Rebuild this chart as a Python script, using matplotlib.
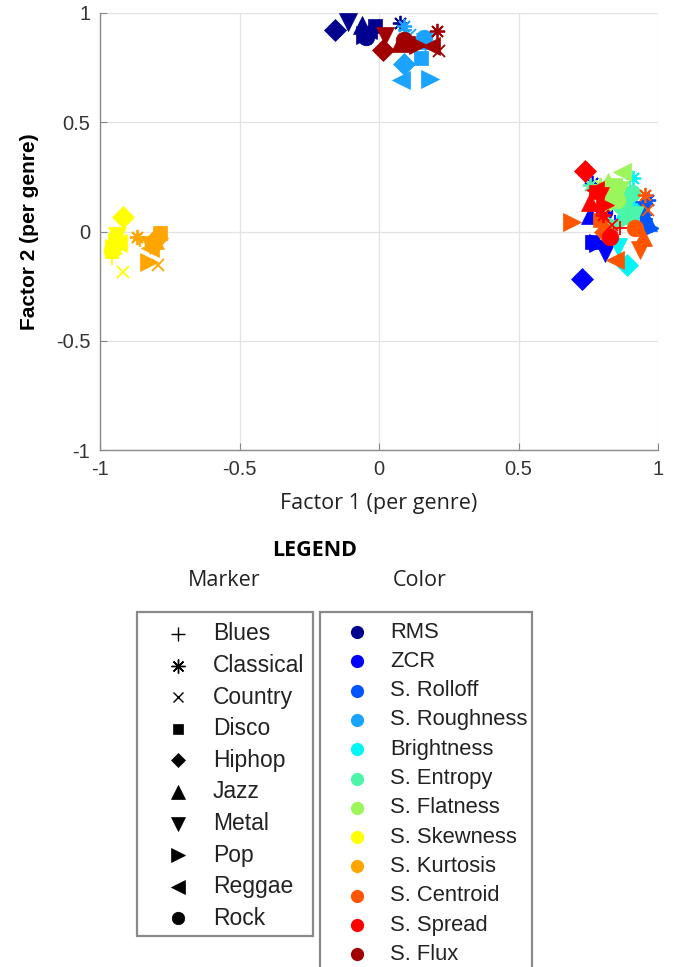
import matplotlib
matplotlib.use("Agg")
import matplotlib.pyplot as plt
from matplotlib.patches import Rectangle

# ---------------- data ----------------
genres = ["Blues", "Classical", "Country", "Disco", "Hiphop", "Jazz", "Metal", "Pop", "Reggae", "Rock"]
features = ["RMS", "ZCR", "S. Rolloff", "S. Roughness", "Brightness", "S. Entropy", "S. Flatness",
            "S. Skewness", "S. Kurtosis", "S. Centroid", "S. Spread", "S. Flux"]
feature_colors = ["#00008f", "#0000ff", "#0055ff", "#1aa3ff", "#00f5f5", "#4cf5a8", "#9cf55a",
                  "#ffff00", "#ffa500", "#ff5500", "#ff0000", "#a00000"]
genre_markers = ["+", (8, 2, 0), "x", "s", "D", "^", "v", ">", "<", "o"]

# factor loadings per genre (x = factor 1, y = factor 2), order follows `genres`
rms_x = [-0.032, 0.075, -0.050, -0.014, -0.158, -0.061, -0.111, -0.050, -0.039, -0.047]
rms_y = [0.922, 0.954, 0.913, 0.941, 0.922, 0.945, 0.959, 0.899, 0.922, 0.890]
zcr_x = [0.846, 0.763, 0.792, 0.763, 0.728, 0.756, 0.810, 0.785, 0.792, 0.806]
zcr_y = [0.043, 0.222, 0.076, -0.048, -0.217, 0.076, -0.098, -0.053, 0.062, 0.089]
rolloff_x = [0.953, 0.964, 0.935, 0.953, 0.935, 0.964, 0.946, 0.971, 0.935, 0.943]
rolloff_y = [0.076, 0.144, 0.121, 0.030, 0.062, 0.043, 0.098, 0.016, 0.089, 0.030]
rough_x = [0.093, 0.090, 0.111, 0.151, 0.090, 0.147, 0.165, 0.183, 0.079, 0.161]
rough_y = [0.922, 0.941, 0.899, 0.794, 0.767, 0.876, 0.867, 0.698, 0.693, 0.886]
bright_x = [0.882, 0.910, 0.900, 0.892, 0.889, 0.871, 0.857, 0.900, 0.892, 0.892]
bright_y = [0.076, 0.245, 0.167, 0.098, -0.153, 0.076, -0.071, 0.121, 0.089, 0.108]
entropy_x = [0.900, 0.756, 0.846, 0.882, 0.864, 0.882, 0.918, 0.846, 0.900, 0.907]
entropy_y = [0.190, 0.213, 0.167, 0.144, 0.121, 0.076, 0.076, 0.030, 0.053, 0.176]
flat_x = [0.810, 0.792, 0.835, 0.846, 0.828, 0.821, 0.864, 0.835, 0.871, 0.853]
flat_y = [0.190, 0.213, 0.167, 0.213, 0.144, 0.227, 0.190, 0.130, 0.272, 0.144]
skew_x = [-0.957, -0.928, -0.918, -0.946, -0.918, -0.953, -0.939, -0.950, -0.935, -0.957]
skew_y = [-0.121, -0.039, -0.185, -0.039, 0.066, -0.062, -0.021, -0.076, -0.053, -0.085]
kurt_x = [-0.857, -0.867, -0.792, -0.785, -0.796, -0.803, -0.821, -0.824, -0.821, -0.810]
kurt_y = [-0.039, -0.025, -0.153, -0.007, -0.030, -0.039, -0.062, -0.140, -0.076, -0.057]
cent_x = [0.810, 0.953, 0.964, 0.792, 0.810, 0.946, 0.935, 0.692, 0.846, 0.918]
cent_y = [0.007, 0.167, 0.098, 0.053, -0.002, -0.025, -0.085, 0.043, -0.130, 0.016]
spread_x = [0.864, 0.803, 0.835, 0.778, 0.738, 0.756, 0.792, 0.810, 0.774, 0.828]
spread_y = [0.016, 0.076, 0.030, 0.181, 0.277, 0.135, 0.162, 0.121, 0.190, -0.025]
flux_x = [0.118, 0.208, 0.215, 0.104, 0.014, 0.075, 0.022, 0.140, 0.186, 0.090]
flux_y = [0.854, 0.918, 0.826, 0.863, 0.831, 0.863, 0.895, 0.854, 0.849, 0.876]

all_x = [rms_x, zcr_x, rolloff_x, rough_x, bright_x, entropy_x, flat_x, skew_x, kurt_x, cent_x, spread_x, flux_x]
all_y = [rms_y, zcr_y, rolloff_y, rough_y, bright_y, entropy_y, flat_y, skew_y, kurt_y, cent_y, spread_y, flux_y]

ticks = [-1, -0.5, 0, 0.5, 1]
tick_labels = ["-1", "-0.5", "0", "0.5", "1"]

# ---------------- figure ----------------
W, H = 681, 967
fig = plt.figure(figsize=(W / 100, H / 100), dpi=100)
fig.patch.set_facecolor("white")

sans = ["Liberation Sans", "DejaVu Sans"]
segoe = ["Open Sans", "DejaVu Sans"]

ax = fig.add_axes([100 / W, 1 - 450 / H, 558 / W, 437 / H])
ax.set_xlim(-1, 1)
ax.set_ylim(-1, 1)
ax.set_xticks(ticks)
ax.set_yticks(ticks)
ax.set_xticklabels(tick_labels, family=sans, fontsize=14.5, color="#333333")
ax.set_yticklabels(tick_labels, family=sans, fontsize=14.5, color="#333333")
ax.tick_params(direction="in", length=5, width=0.8, color="#888888", pad=7)
ax.grid(True, color="#e3e3e3", linewidth=0.9, zorder=0)
ax.set_axisbelow(True)
for s in ["top", "right"]:
    ax.spines[s].set_visible(False)
for s in ["left", "bottom"]:
    ax.spines[s].set_color("#8a8a8a")
    ax.spines[s].set_linewidth(1.0)

sizes = {"+": 10, "x": 9, "s": 10, "D": 11, "^": 13, "v": 13, ">": 13, "<": 13, "o": 12}
for fi, (xs, ys) in enumerate(zip(all_x, all_y)):
    col = feature_colors[fi]
    for gi in range(len(genres)):
        m = genre_markers[gi]
        ms = sizes.get(m, 11) if not isinstance(m, tuple) else 11
        if m in ("+", "x") or isinstance(m, tuple):
            ax.plot([xs[gi]], [ys[gi]], linestyle="none", marker=m, ms=ms, color=col,
                    markeredgewidth=1.3, zorder=3 + fi)
        else:
            ax.plot([xs[gi]], [ys[gi]], linestyle="none", marker=m, ms=ms, color=col,
                    markeredgecolor=col, markeredgewidth=0.5, zorder=3 + fi)

ax.set_ylabel("Factor 2 (per genre)", family=sans, fontsize=15, fontweight="bold", labelpad=12)
ax.set_xlabel("Factor 1 (per genre)", family=segoe, fontsize=15.5, color="#222222", labelpad=10)

# ---------------- legend area ----------------
lax = fig.add_axes([0, 0, 1, 1], zorder=-1)
lax.set_xlim(0, W)
lax.set_ylim(H, 0)
lax.axis("off")

lax.text(315, 551, "LEGEND", family=segoe, fontsize=15.5, fontweight="bold", ha="center", va="center")
lax.text(224, 581, "Marker", family=segoe, fontsize=15.5, ha="center", va="center", color="#222222")
lax.text(420, 581, "Color", family=segoe, fontsize=15.5, ha="center", va="center", color="#222222")

lax.add_patch(Rectangle((137, 612), 176, 324, facecolor="white", edgecolor="#8a8a8a", linewidth=1.6))
lax.add_patch(Rectangle((320, 612), 212, 370, facecolor="white", edgecolor="#8a8a8a", linewidth=1.6,
                        clip_on=False))

leg_sizes = {"+": 10, "x": 7, "s": 6.5, "D": 7.5, "^": 10, "v": 10, ">": 10, "<": 10, "o": 9}
for gi, g in enumerate(genres):
    yy = 634 + gi * 31.6
    m = genre_markers[gi]
    ms = leg_sizes.get(m, 9) if not isinstance(m, tuple) else 10
    lax.plot([178], [yy], marker=m, ms=ms, color="black", linestyle="none",
             markeredgewidth=1.0 if (m in ("+", "x") or isinstance(m, tuple)) else 0.5)
    lax.text(213, yy, g, family=sans, fontsize=16.5, ha="left", va="center", color="#222222")

for fi, f in enumerate(features):
    yy = 632 + fi * 29.3
    lax.plot([357], [yy], marker="o", ms=9.5, color=feature_colors[fi], markeredgewidth=0,
             linestyle="none")
    lax.text(390, yy, f, family=sans, fontsize=15.8, ha="left", va="center", color="#222222")

fig.savefig("out.png", dpi=100)
